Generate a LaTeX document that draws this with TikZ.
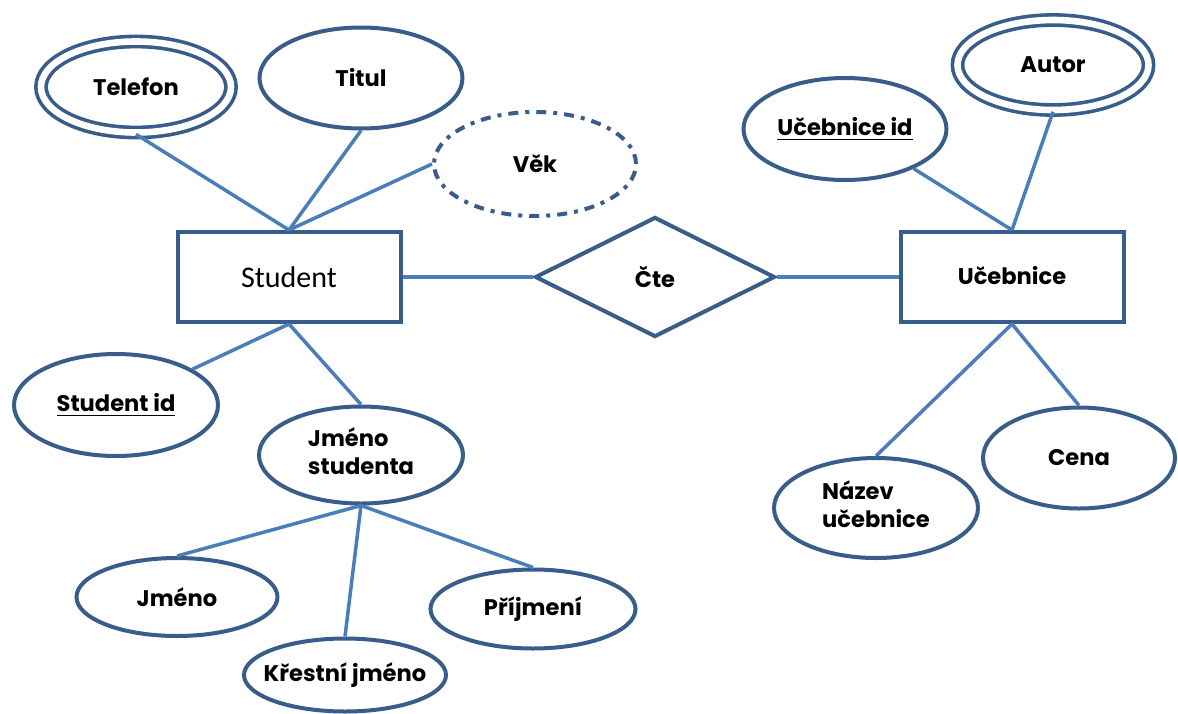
\documentclass[tikz,border=0pt]{standalone}
\usepackage{fontspec}
\usetikzlibrary{shapes.geometric}
\newfontfamily\gothic{Poppins}
\newfontfamily\calib{Carlito}
\definecolor{outl}{HTML}{385D8A}
\definecolor{conn}{HTML}{4A7EBB}
\tikzset{
  lbl/.style={font=\gothic\bfseries\fontsize{11.3}{14}\selectfont, text=black},
  attr/.style={lbl, ellipse, draw=outl, line width=2pt, fill=white, inner sep=0pt,
    minimum width=101pt, minimum height=50pt, align=center},
  multi/.style={attr, double=white, double distance=3.3pt, line width=1.8pt,
    minimum width=95pt, minimum height=45.5pt},
  derived/.style={attr, dash pattern=on 5pt off 3.5pt on 2pt off 3.5pt},
  entity/.style={rectangle, draw=outl, line width=2pt, fill=white,
    minimum width=111.5pt, minimum height=45pt, inner sep=0pt},
  rel/.style={lbl, diamond, draw=outl, line width=2pt, fill=white,
    minimum width=120pt, minimum height=60pt, inner sep=0pt},
  link/.style={draw=conn, line width=1.75pt},
}
\begin{document}
\begin{tikzpicture}[x=0.5pt, y=-0.5pt]
\useasboundingbox (0,0) rectangle (1178,713);
% entities and relationship
\node[entity, font=\calib\fontsize{15}{18}\selectfont] (stud) at (289,277) {Student};
\node[entity, lbl] (ucb) at (1012,277) {\raisebox{2pt}{Učebnice}};
\node[rel] (cte) at (655,277) {Čte};
% student attributes
\node[multi] (tel) at (136,87) {\makebox[0pt]{Telefon}};
\node[attr, minimum width=101.5pt, minimum height=50.5pt] (tit) at (361,78) {\makebox[0pt]{Titul}};
\node[derived, minimum width=101pt, minimum height=52pt] (vek) at (535,164) {\makebox[0pt]{Věk}};
\node[attr, minimum width=102pt, minimum height=51pt] (sid) at (116,405) {\makebox[0pt]{\underline{Student id}}};
\node[attr, minimum width=102pt, minimum height=48.5pt] (js) at (361,455) {\makebox[0pt]{\begin{tabular}{@{}l@{}}Jméno\\ studenta\end{tabular}}};
\node[attr, minimum width=100.5pt, minimum height=39pt] (jm) at (177,597) {\makebox[0pt]{Jméno}};
\node[attr, minimum width=101pt, minimum height=36.5pt] (kj) at (345,675) {\makebox[0pt]{Křestní jméno}};
\node[attr, minimum width=102.5pt, minimum height=39.5pt] (pr) at (533,609) {\makebox[0pt]{Příjmení}};
% textbook attributes
\node[multi, minimum width=95.5pt, minimum height=45pt] (aut) at (1053,65) {\makebox[0pt]{Autor}};
\node[attr, minimum width=101.5pt, minimum height=51pt] (uid) at (845,129) {\makebox[0pt]{\underline{Učebnice id}}};
\node[attr, minimum width=102pt, minimum height=50pt] (naz) at (876,508) {\makebox[0pt]{\begin{tabular}{@{}l@{}}Název\\ učebnice\end{tabular}}};
\node[attr, minimum width=96pt, minimum height=50.5pt] (cen) at (1079,458) {\makebox[0pt]{Cena}};
% connectors
\draw[link] (tel.south) -- (stud.north);
\draw[link] (tit.south) -- (stud.north);
\draw[link] (vek.west) -- (stud.north);
\draw[link] (stud.south) -- (sid);
\draw[link] (stud.south) -- (js.north);
\draw[link] (js.south) -- (jm.north);
\draw[link] (js.south) -- (kj.north);
\draw[link] (js.south) -- (pr.north);
\draw[link] (stud.east) -- (cte.west);
\draw[link] (cte.east) -- (ucb.west);
\draw[link] (uid.-30) -- (ucb.north);
\draw[link] (aut.south) -- (ucb.north);
\draw[link] (ucb.south) -- (naz.north);
\draw[link] (ucb.south) -- (cen.north);
\end{tikzpicture}
\end{document}
